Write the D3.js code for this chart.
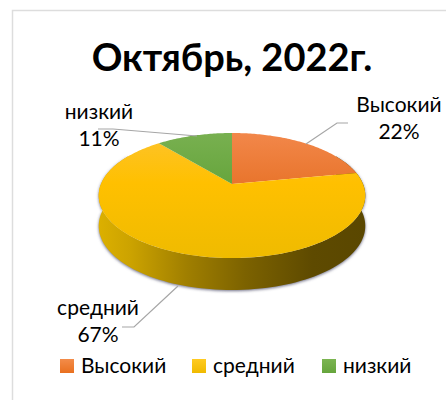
<!DOCTYPE html>
<html><head><meta charset="utf-8">
<script src="https://cdn.jsdelivr.net/npm/d3@7/dist/d3.min.js"></script>
<style>html,body{margin:0;padding:0;background:#fff}svg{display:block}text{font-family:Lato,"Open Sans",sans-serif;fill:#000}</style>
</head><body><svg id="c" width="446" height="400"></svg>
<script>
const titleText = "Октябрь, 2022г.";
const categories = ["Высокий", "средний", "низкий"];
const shares = [22, 67, 11];
const topColors = [["#F2874A","#E8742B"],["#FDC32C","#EFBB00"],["#78B050","#66A53C"]];
const legendColors = [["#F38C4A","#E9701F"],["#FFCB22","#F0BA00"],["#7CB552","#66A53C"]];

const svg = d3.select("#c");
const defs = svg.append("defs");
const cx = 232, cy = 184, B = 131, A = 60.4, k = 0.184;
const project = (a, r = 1, depth = 0) => {
  const u = r * Math.sin(a), v = -r * Math.cos(a), w = 1 - k * v;
  return [cx + B * u / w, cy + A * v / w + depth * (0.94 + 0.06 * v)];
};
const pie = d3.pie().sort(null).startAngle(0).endAngle(2 * Math.PI).value(d => d);
const arcs = pie(shares);
const line = d3.line();

// frame
svg.append("path").attr("d", "M12.5,400V10.5H446").attr("fill", "none").attr("stroke", "#DDDDDD").attr("stroke-width", 1.5);

// gradients
const grad = (id, stops, x1, y1, x2, y2) => {
  const g = defs.append("linearGradient").attr("id", id).attr("gradientUnits", "userSpaceOnUse")
    .attr("x1", x1).attr("y1", y1).attr("x2", x2).attr("y2", y2);
  stops.forEach(([o, c]) => g.append("stop").attr("offset", o).attr("stop-color", c));
};
topColors.forEach((c, i) => grad("top" + i,
  i === 1 ? [[0, c[0]], [0.4, "#FFC000"], [1, c[1]]] : [[0, c[0]], [1, c[1]]],
  0, 133, 0, i === 1 ? 258 : 186));
grad("wall", [[0, "#DCB000"], [0.12, "#CCA300"], [0.33, "#A07F00"], [0.55, "#7C6200"], [0.8, "#5E4A00"], [1, "#5A4700"]], 98, 0, 366, 0);
const blur = defs.append("filter").attr("id", "sh").attr("x", "-10%").attr("y", "-10%").attr("width", "120%").attr("height", "130%");
blur.append("feGaussianBlur").attr("stdDeviation", 1.4);

// wall under the middle slice
const samples = d3.range(60, 301, 2).map(d => d * Math.PI / 180);
const wallPts = samples.map(a => project(a)).concat(samples.slice().reverse().map(a => project(a, 1, 32)));
svg.append("path").attr("d", line(wallPts) + "Z").attr("fill", "#6E6E86").attr("filter", "url(#sh)").attr("transform", "translate(0,1)");
svg.append("path").attr("d", line(wallPts) + "Z").attr("fill", "url(#wall)");

// top faces
arcs.forEach((d, i) => {
  const n = Math.ceil((d.endAngle - d.startAngle) * 60);
  const pts = [project(0, 0)].concat(d3.range(n + 1).map(j => project(d.startAngle + (d.endAngle - d.startAngle) * j / n)));
  svg.append("path").attr("d", line(pts) + "Z").attr("fill", `url(#top${i})`);
});

// leader lines
[[[348,123],[337,123],[306,144]], [[122,327],[134,327],[178,286]], [[98,129],[113,129],[197,136]]].forEach(p =>
  svg.append("path").attr("d", line(p)).attr("fill", "none").attr("stroke", "#A6A6A6").attr("stroke-width", 1.2));

// title
svg.append("text").attr("x", 232).attr("y", 71).attr("text-anchor", "middle")
  .attr("font-size", 38).attr("font-weight", 700).text(titleText);

// data labels
const labelPos = [[399, 112], [98, 315], [99, 119]];
categories.forEach((c, i) => {
  const t = svg.append("text").attr("text-anchor", "middle").attr("font-size", 21);
  t.append("tspan").attr("x", labelPos[i][0]).attr("y", labelPos[i][1]).text(c);
  t.append("tspan").attr("x", labelPos[i][0]).attr("y", labelPos[i][1] + 27).text(shares[i] + "%");
});

// legend
const legendX = [60, 192, 322];
categories.forEach((c, i) => {
  grad("lg" + i, [[0, legendColors[i][0]], [1, legendColors[i][1]]], 0, 359, 0, 373);
  svg.append("rect").attr("x", legendX[i]).attr("y", 359).attr("width", 14).attr("height", 14).attr("fill", `url(#lg${i})`);
  svg.append("text").attr("x", legendX[i] + 21).attr("y", 373).attr("font-size", 21).text(c);
});
</script></body></html>
